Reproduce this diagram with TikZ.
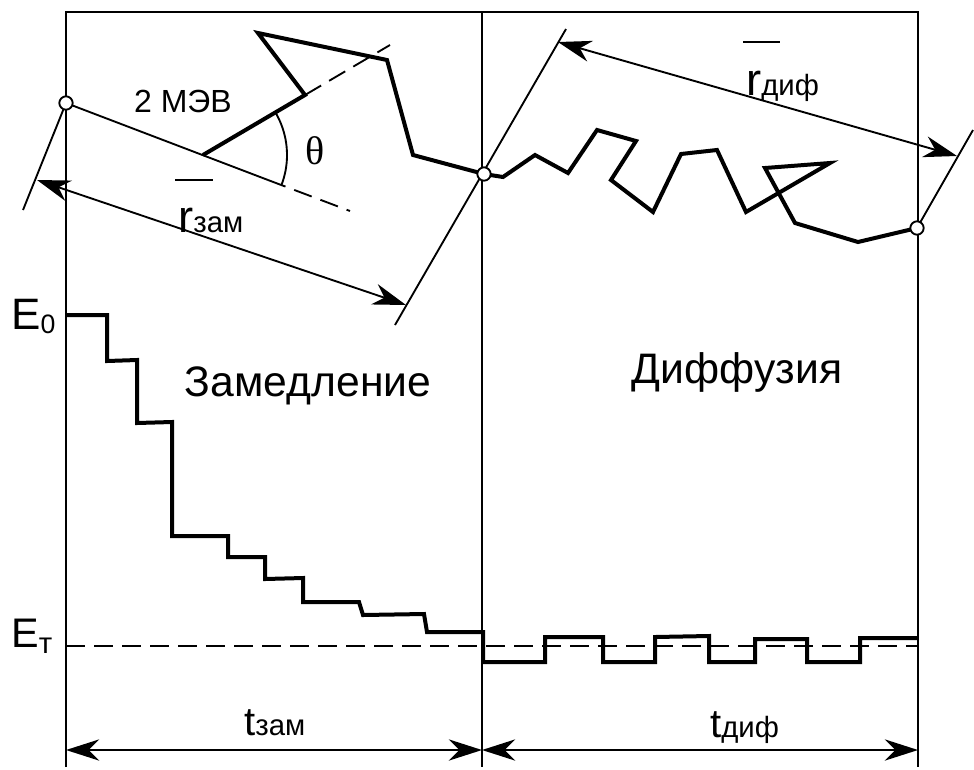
\documentclass[tikz,border=0pt]{standalone}
\usepackage{fontspec}
\setmainfont{Liberation Sans}
\newfontfamily\seriffont{Liberation Serif}
\usetikzlibrary{arrows.meta}
\newcommand{\fs}[1]{\fontsize{#1}{#1}\selectfont}
\begin{document}
\begin{tikzpicture}[x=0.75pt,y=-0.75pt,
  thinln/.style={line width=1.4pt},
  thickln/.style={line width=3pt, line join=miter},
  dashln/.style={line width=1.4pt, dash pattern=on 14pt off 7pt},
  dimarrow/.style={line width=1.4pt, {Stealth[length=25pt,width=16pt,inset=8pt]}-{Stealth[length=25pt,width=16pt,inset=8pt]}},
  endpt/.style={circle, draw, fill=white, line width=1.4pt, minimum size=10pt, inner sep=0pt},
  lbl/.style={inner sep=0pt, anchor=base west},
  bar/.style={line width=2pt}]
\useasboundingbox (0,0) rectangle (974,769);
% frame
\coordinate (TL) at (66,12); \coordinate (TM) at (482,12); \coordinate (TR) at (918,12);
\coordinate (BL) at (66,767); \coordinate (BM) at (482,767); \coordinate (BR) at (918,767);
\draw[thinln] (BL) -- (TL) -- (TR) -- (BR);
\draw[thinln] (TM) -- (BM);
% key points
\coordinate (Apos) at (66,103);
\coordinate (Bpos) at (484,174);
\coordinate (Cpos) at (917,228);
\coordinate (P0) at (203,155);
\coordinate (P1) at (305,95);
\coordinate (Q1) at (268,180);
\coordinate (Q2) at (350,211);
\coordinate (Q3) at (390,45);
% thin line and dashed continuations
\draw[thinln] (Apos) -- (Q1);
\draw[dashln] (Q1) -- (Q2);
\draw[dashln] (P1) -- (Q3);
\draw[thinln] plot[domain=-30.5:20.8,samples=40] ({203+84*cos(\x)},{155+84*sin(\x)});
% slowing-down path
\draw[thickln] (P0) -- (P1) -- (258,33) -- (387,60) -- (413,155) -- (Bpos);
% diffusion path
\draw[thickln] (Bpos) -- (503,177) -- (535,155) -- (568,173) -- (597,130) -- (636,141) -- (611,180) -- (653,212) -- (681,154) -- (717,150) -- (746,212) -- (830,163) -- (765,168) -- (795,223) -- (858,242) -- (Cpos);
% extension lines
\coordinate (E1) at (23,210);
\coordinate (F1) at (395,325);
\coordinate (F2) at (566,29);
\coordinate (G1) at (973,130);
\draw[thinln] (Apos) -- (E1);
\draw[thinln] (F1) -- (F2);
\draw[thinln] (Cpos) -- (G1);
% dimension arrows r
\coordinate (D1) at (37,180); \coordinate (D2) at (406,305);
\draw[dimarrow] (D1) -- (D2);
\coordinate (D3) at (558,42); \coordinate (D4) at (957,156);
\draw[dimarrow] (D3) -- (D4);
% end points
\node[endpt] (A) at (Apos) {};
\node[endpt] (B) at (Bpos) {};
\node[endpt] (C) at (Cpos) {};
% labels top
\node[font=\fs{24}] (mev) at (183,101) {2 МЭВ};
\node[font=\seriffont\fs{30}] (theta) at (315,151) {θ};
\node[lbl] (rz) at (178,232) {\fs{34}r\fs{22}зам};
\draw[bar] (175,180) -- (213,180);
\node[lbl] (rd) at (746,95) {\fs{34}r\fs{22}диф};
\draw[bar] (743,42) -- (780,42);
% energy
\draw[thickln] (66,315) -- (107,315) -- (107,361) -- (137,360) -- (137,423) -- (172,422) -- (172,536) -- (228,536) -- (228,557) -- (265,557) -- (265,579) -- (303,578) -- (303,602) -- (359,602) -- (363,615) -- (424,614) -- (427,632) -- (483,632) -- (483,662) -- (545,662) -- (545,637) -- (603,637) -- (603,662) -- (655,662) -- (655,637) -- (709,636) -- (709,662) -- (755,662) -- (755,639) -- (807,639) -- (807,662) -- (860,662) -- (860,638) -- (918,638);
\draw[dashln] (66,646) -- (918,646);
\node[lbl] (E0) at (11,329) {\fs{33}E\raisebox{-3pt}{\fs{20}0}};
\node[lbl] (ET) at (11,647) {\fs{31}E\raisebox{-4.5pt}{\fs{22}т}};
\node[anchor=base, inner sep=0pt, font=\fs{32}] (zam) at (308,396) {Замедление};
\node[anchor=base, inner sep=0pt, font=\fs{32}] (dif) at (737,383) {Диффузия};
% time dimensions
\coordinate (T1) at (66,750); \coordinate (T2) at (482,750); \coordinate (T3) at (918,750);
\draw[dimarrow] (T1) -- (T2);
\draw[dimarrow] (T2) -- (T3);
\node[lbl] (tz) at (244,735) {\fs{30}t\fs{22}зам};
\node[lbl] (td) at (710,737) {\fs{30}t\fs{22}диф};
\end{tikzpicture}
\end{document}
